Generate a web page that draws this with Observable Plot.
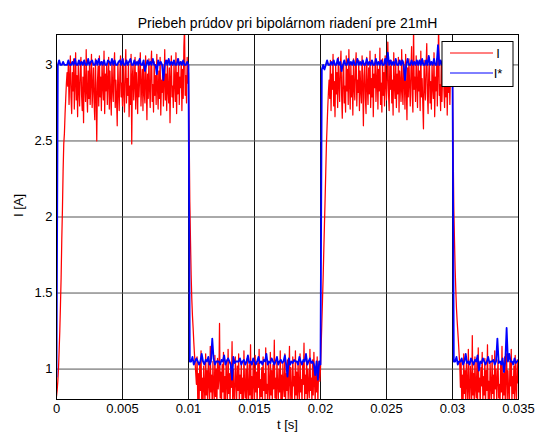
<!DOCTYPE html>
<html>
<head>
<meta charset="utf-8">
<script src="https://cdn.jsdelivr.net/npm/d3@7"></script>
<script src="https://cdn.jsdelivr.net/npm/@observablehq/plot@0.6"></script>
<style>
  html, body { margin: 0; padding: 0; background: #fff; }
</style>
</head>
<body>
<div id="chart"></div>
<script>
const chartTitle = "Priebeh prúdov pri bipolárnom riadení pre 21mH";
const xLabel = "t [s]";
const yLabel = "I [A]";
const seriesNames = ["I", "I*"];
const xTicks = [0, 0.005, 0.01, 0.015, 0.02, 0.025, 0.03, 0.035];
const yTicks = [1, 1.5, 2, 2.5, 3];
const tStepMeasured = 0.00005;  // sampling period of I [s]
const tStepReference = 0.0001;  // sampling period of I* [s]

// measured current I [A]
const iMeasured = [
  0.82, 0.86, 0.92, 1.0, 1.12, 1.25, 1.42, 1.6, 1.85, 2.05, 2.3, 2.48, 2.55, 2.68, 2.78, 2.88, 2.95,
  2.86, 3.02, 2.74, 2.91, 3.06, 2.79, 2.68, 2.95, 2.83, 3.04,
  2.71, 2.89, 3.08, 2.77, 2.93, 2.66, 3.0, 2.84, 2.73, 2.97,
  3.05, 2.8, 2.7, 2.92, 2.62, 3.03, 2.87, 2.76, 3.1, 2.82,
  2.69, 2.96, 2.78, 3.01, 2.74, 2.9, 3.07, 2.72, 2.85, 2.98,
  2.75, 2.64, 3.04, 2.81, 2.5, 2.88, 2.99, 2.73, 3.06, 2.79,
  2.92, 2.7, 3.02, 2.86, 2.77, 3.09, 2.68, 2.94, 2.83, 3.0,
  2.74, 2.89, 3.05, 2.71, 2.96, 2.8, 2.67, 3.03, 2.85, 2.76,
  2.98, 3.08, 2.72, 2.9, 2.78, 2.6, 3.01, 2.84, 2.7, 2.95,
  3.06, 2.79, 2.88, 2.73, 3.04, 2.82, 2.69, 2.97, 3.1, 2.75,
  2.91, 2.8, 3.02, 2.66, 2.86, 2.74, 3.07, 2.48, 2.93, 3.0,
  2.77, 2.88, 3.05, 2.71, 2.95, 2.83, 2.68, 3.03, 2.79, 2.92,
  3.08, 2.73, 2.86, 2.97, 2.7, 3.01, 2.81, 2.75, 3.06, 2.89,
  2.64, 2.94, 2.78, 3.04, 2.84, 2.72, 2.99, 3.09, 2.76, 2.87,
  2.69, 3.02, 2.8, 2.93, 2.74, 3.07, 2.85, 2.71, 2.96, 2.78,
  3.05, 2.67, 2.9, 2.82, 3.0, 2.73, 2.88, 3.1, 2.77, 2.94,
  2.7, 3.03, 2.83, 2.75, 2.98, 2.62, 2.91, 3.06, 2.79, 2.86,
  2.72, 3.01, 2.89, 2.76, 3.08, 2.68, 2.95, 2.81, 3.04, 2.74,
  2.92, 2.85, 3.02, 2.7, 2.97, 2.78, 3.12, 3.25, 2.8, 2.93,
  2.75, 3.05, 2.88,
  2.95,
  2.55, 2.1, 1.85, 1.62, 1.46, 1.35, 1.27, 1.18, 1.1, 1.04, 0.97,
  0.9, 1.08, 0.8, 0.97, 0.76, 1.04, 0.86, 1.12, 0.79, 0.94,
  0.75, 1.02, 0.88, 0.78, 1.1, 0.83, 0.99, 0.77, 1.06, 0.91,
  0.8, 1.15, 0.85, 0.96, 0.75, 1.05, 0.89, 0.79, 1.09, 0.82,
  1.0, 0.76, 1.07, 0.87, 0.93, 1.3, 0.81, 0.98, 0.77, 1.03,
  0.85, 1.11, 0.79, 0.95, 0.75, 1.06, 0.9, 0.8, 1.13, 0.84,
  0.97, 0.76, 1.04, 0.88, 1.18, 0.78, 1.0, 0.83, 0.75, 1.08,
  0.92, 0.8, 1.02, 0.86, 1.1, 0.77, 0.96, 0.84, 1.05, 0.79,
  0.94, 0.75, 1.12, 0.87, 0.81, 1.0, 0.78, 1.07, 0.89, 0.76,
  1.03, 0.83, 1.16, 0.8, 0.95, 0.77, 1.06, 0.91, 0.79, 1.09,
  0.85, 0.98, 0.75, 1.04, 0.88, 1.13, 0.78, 0.93, 0.82, 1.01,
  0.76, 1.08, 0.86, 0.97, 0.79, 1.14, 0.84, 0.9, 0.75, 1.05,
  0.89, 0.8, 1.11, 0.83, 0.99, 0.77, 1.03, 0.87, 1.19, 0.81,
  0.94, 0.76, 1.07, 0.9, 0.78, 1.0, 0.85, 1.12, 0.79, 0.96,
  0.75, 1.04, 0.88, 0.82, 1.1, 0.77, 0.97, 0.86, 1.06, 0.8,
  0.92, 1.15, 0.78, 1.01, 0.84, 0.76, 1.08, 0.89, 0.95, 0.79,
  1.12, 0.83, 0.98, 0.75, 1.05, 0.87, 0.8, 1.1, 0.85, 0.93,
  0.77, 1.03, 0.9, 1.17, 0.79, 0.96, 0.84, 1.07, 0.76, 1.0,
  0.88, 0.81, 1.13, 0.86, 0.94, 0.78, 1.06, 0.83, 1.11, 0.9,
  0.79, 1.02, 0.85, 1.08, 0.77, 0.97, 1.05, 0.92,
  1.0,
  1.15, 1.3, 1.45, 1.6, 1.78, 1.95, 2.12, 2.3, 2.48, 2.6, 2.72, 2.82, 2.9,
  2.78, 3.03, 2.7, 2.94, 2.84, 3.07, 2.73, 2.89, 2.66, 3.0,
  2.81, 2.95, 2.72, 3.05, 2.87, 2.76, 2.98, 3.09, 2.8, 2.65,
  2.92, 3.02, 2.75, 2.86, 2.69, 3.06, 2.83, 2.97, 2.74, 3.1,
  2.88, 2.71, 3.01, 2.79, 2.93, 2.67, 3.04, 2.85, 2.77, 2.99,
  3.08, 2.73, 2.9, 2.82, 3.03, 2.7, 2.96, 2.84, 2.75, 3.06,
  2.87, 2.6, 2.93, 3.01, 2.78, 2.68, 3.05, 2.86, 2.74, 2.98,
  2.81, 3.09, 2.72, 2.91, 2.79, 3.02, 2.66, 2.94, 2.85, 3.07,
  2.76, 2.89, 3.0, 2.71, 2.97, 2.83, 3.11, 2.74, 2.88, 2.69,
  3.04, 2.8, 2.95, 2.73, 3.06, 2.87, 2.77, 2.92, 3.15, 2.82,
  2.7, 2.99, 2.84, 3.03, 2.75, 2.9, 2.67, 3.08, 2.86, 2.78,
  3.01, 2.72, 2.94, 2.81, 3.05, 2.69, 2.96, 2.88, 2.76, 3.1,
  2.83, 2.74, 3.02, 2.9, 2.71, 3.07, 2.85, 2.64, 2.98, 2.79,
  3.04, 2.87, 2.73, 2.95, 3.12, 2.8, 2.69, 3.26, 2.84, 2.92,
  2.76, 3.06, 2.88, 2.72, 3.0, 2.83, 2.96, 2.7, 3.09, 2.79,
  2.91, 2.74, 2.58, 3.03, 2.86, 2.77, 2.99, 3.14, 2.81, 2.68,
  2.94, 3.05, 2.75, 2.89, 2.71, 3.01, 2.85, 2.78, 3.08, 2.66,
  2.92, 2.83, 3.04, 2.73, 2.97, 3.27, 2.8, 2.87, 2.7, 3.02,
  2.76, 2.93, 3.1, 2.84, 2.72, 2.98, 2.79, 3.06, 2.67, 2.9,
  2.82, 3.03, 2.74, 2.95, 2.86, 3.0,
  2.9,
  2.45, 2.05, 1.85, 1.66, 1.52, 1.4, 1.32, 1.25, 1.18, 1.1, 1.03,
  0.88, 1.06, 0.79, 0.96, 0.75, 1.1, 0.84, 0.99, 0.77, 1.04,
  0.9, 0.8, 1.13, 0.86, 0.76, 1.02, 0.93, 0.78, 1.22, 0.83,
  0.97, 0.75, 1.08, 0.87, 0.81, 1.05, 0.79, 1.14, 0.85, 0.94,
  0.76, 1.01, 0.89, 1.11, 0.78, 0.95, 0.83, 1.07, 0.75, 0.99,
  0.86, 1.16, 0.8, 0.92, 0.77, 1.04, 0.88, 0.79, 1.09, 0.84,
  0.96, 0.75, 1.12, 0.87, 1.0, 0.78, 0.93, 1.06, 0.81, 0.9,
  0.76, 1.03, 0.85, 1.15, 0.79, 0.97, 0.83, 1.08, 0.77, 0.94,
  1.1, 0.8, 0.99, 0.86, 0.75, 1.05, 0.89, 1.13, 0.78, 0.95,
  0.84, 1.02, 0.76, 1.09, 0.88, 0.8, 1.06, 0.91, 0.97
];

// reference current I* [A]
const iReference = [
  0.95,
  3.0, 3.03, 3.0, 3.0, 3.02, 3.0, 3.0, 3.0, 3.03, 3.0,
  3.0, 3.02, 3.0, 3.04, 3.0, 3.0, 3.03, 3.0, 3.02, 3.0,
  3.03, 3.0, 3.0, 3.04, 3.0, 3.02, 3.03, 3.0, 3.0, 3.03,
  3.0, 3.04, 3.0, 3.02, 3.0, 3.03, 3.0, 3.0, 3.03, 3.02,
  3.0, 3.04, 3.0, 3.03, 3.0, 3.0, 3.02, 3.03, 3.0, 3.04,
  3.0, 3.0, 3.03, 3.0, 3.02, 3.04, 3.0, 3.0, 3.03, 3.0,
  3.02, 3.0, 3.04, 3.0, 3.0, 3.03, 2.96, 3.0, 3.03, 3.0,
  3.02, 3.0, 3.04, 3.0, 3.0, 2.94, 3.03, 3.0, 3.02, 3.0,
  2.9, 3.0, 3.03, 3.0, 3.04, 3.0, 3.02, 3.0, 3.03, 3.0,
  3.0, 3.04, 3.0, 3.02, 3.0, 3.03, 3.0, 3.0, 3.02, 3.0,
  1.05, 1.05, 1.08, 1.03, 1.05, 1.07, 1.05, 1.03, 1.05, 1.1,
  1.05, 1.03, 1.06, 1.05, 1.08, 1.03, 1.05, 1.2, 1.07, 1.03,
  1.05, 1.05, 1.05, 1.03, 1.06, 1.05, 1.09, 1.03, 1.05, 1.07,
  1.05, 1.03, 0.93, 1.08, 1.04, 1.05, 1.05, 1.05, 1.07, 1.03,
  1.05, 1.06, 1.03, 1.05, 1.09, 1.04, 1.05, 1.03, 1.07, 1.05,
  1.03, 1.05, 1.08, 1.04, 1.05, 1.03, 1.06, 1.05, 1.1, 1.03,
  1.05, 1.04, 1.07, 1.05, 1.03, 1.05, 1.08, 1.03, 1.05, 1.06,
  1.04, 1.05, 1.09, 1.03, 0.95, 1.07, 1.03, 1.05, 1.04, 1.06,
  1.05, 1.05, 1.03, 1.08, 1.05, 1.03, 1.06, 1.05, 1.1, 1.03,
  1.05, 1.07, 1.04, 1.05, 1.03, 0.96, 1.05, 0.93, 1.05, 1.03,
  2.97, 3.0, 2.97, 3.0, 3.03, 3.0, 3.0, 3.02, 3.0, 3.03,
  3.0, 3.0, 3.04, 3.0, 3.02, 2.96, 3.0, 3.03, 3.0, 3.0,
  3.04, 3.0, 3.02, 3.0, 3.03, 3.0, 3.0, 3.04, 3.0, 3.02,
  3.0, 3.03, 3.0, 3.0, 3.04, 3.0, 3.02, 3.0, 3.03, 3.0,
  3.0, 3.04, 3.0, 3.02, 3.0, 3.03, 3.0, 3.0, 3.04, 3.0,
  3.08, 3.0, 3.03, 3.0, 3.02, 3.0, 3.04, 3.0, 3.0, 3.03,
  3.0, 3.03, 3.0, 2.9, 3.0, 3.04, 3.0, 3.0, 3.03, 3.0,
  3.02, 3.0, 3.03, 3.0, 3.03, 3.0, 3.04, 3.0, 3.0, 3.03,
  3.0, 3.06, 3.0, 3.02, 3.0, 3.04, 3.0, 3.0, 3.13, 3.0,
  3.03, 3.0, 3.02, 3.0, 3.04, 3.0, 3.03, 3.0, 3.03, 3.0,
  1.05, 1.05, 1.08, 1.03, 1.05, 1.05, 1.07, 1.03, 1.05, 1.1,
  1.04, 1.05, 1.03, 1.07, 1.05, 1.03, 1.06, 1.05, 1.09, 0.99,
  1.05, 1.04, 1.07, 1.05, 1.03, 1.05, 1.08, 1.04, 1.05, 1.05,
  1.06, 1.03, 1.05, 1.2, 1.04, 1.05, 1.03, 1.07, 0.98, 1.05,
  1.27, 1.05, 1.1, 1.05, 1.05, 1.03, 1.07, 1.04, 1.05, 1.06
];

if (iMeasured.length !== 701) throw new Error("iMeasured length " + iMeasured.length);
if (iReference.length !== 351) throw new Error("iReference length " + iReference.length);

const colors = ["#ff0000", "#0000ff"];
const measured = iMeasured.map((v, k) => ({t: k * tStepMeasured, i: v}));
const reference = iReference.map((v, k) => ({t: k * tStepReference, i: v}));

const fmt = d => String(d);

const svg = Plot.plot({
  width: 538,
  height: 438,
  marginLeft: 56,
  marginRight: 20,
  marginTop: 34,
  marginBottom: 39,
  style: {fontFamily: "'Liberation Sans', Arial, Helvetica, sans-serif", fontSize: "13px", background: "#fff", color: "#000", overflow: "visible"},
  x: {domain: [0, 0.035], label: null},
  y: {domain: [0.8, 3.2], label: null},
  marks: [
    Plot.gridX(xTicks, {stroke: "#111", strokeOpacity: 1, strokeWidth: 1}),
    Plot.gridY(yTicks, {stroke: "#555", strokeOpacity: 1, strokeWidth: 1}),
    Plot.line(measured, {x: "t", y: "i", stroke: colors[0], strokeWidth: 1.25, clip: true}),
    Plot.line(reference, {x: "t", y: "i", stroke: colors[1], strokeWidth: 1.8, clip: true}),
    Plot.frame({stroke: "#000", strokeWidth: 1}),
    Plot.axisX(xTicks, {tickFormat: fmt, tickSize: 0, tickPadding: 4, fontSize: 13}),
    Plot.axisY(yTicks, {tickFormat: fmt, tickSize: 0, tickPadding: 4, fontSize: 13}),
    Plot.text([chartTitle], {text: d => d, frameAnchor: "top", dy: -16, fontSize: 14}),
    Plot.text([xLabel], {text: d => d, frameAnchor: "bottom", dy: 29, fontSize: 13}),
    Plot.text([yLabel], {text: d => d, frameAnchor: "left", dx: -38, rotate: -90, fontSize: 13})
  ]
});

// legend box (MATLAB style, top-right inside the axes)
const lg = d3.select(svg).append("g");
const lx = 442, ly = 41.5, lw = 71, lh = 45;
lg.append("rect").attr("x", lx).attr("y", ly).attr("width", lw).attr("height", lh)
  .style("fill", "#fff").style("stroke", "#000").style("stroke-width", 1);
seriesNames.forEach((name, j) => {
  const yy = 53 + j * 20;
  lg.append("line").attr("x1", lx + 8).attr("x2", lx + 51).attr("y1", yy).attr("y2", yy)
    .style("stroke", colors[j]).style("stroke-width", 1);
  lg.append("text").attr("x", lx + 56).attr("y", yy).attr("dy", "0.35em")
    .style("font-size", "13px").style("fill", "#000").style("stroke", "none").text(name);
});

document.getElementById("chart").appendChild(svg);
</script>
</body>
</html>
